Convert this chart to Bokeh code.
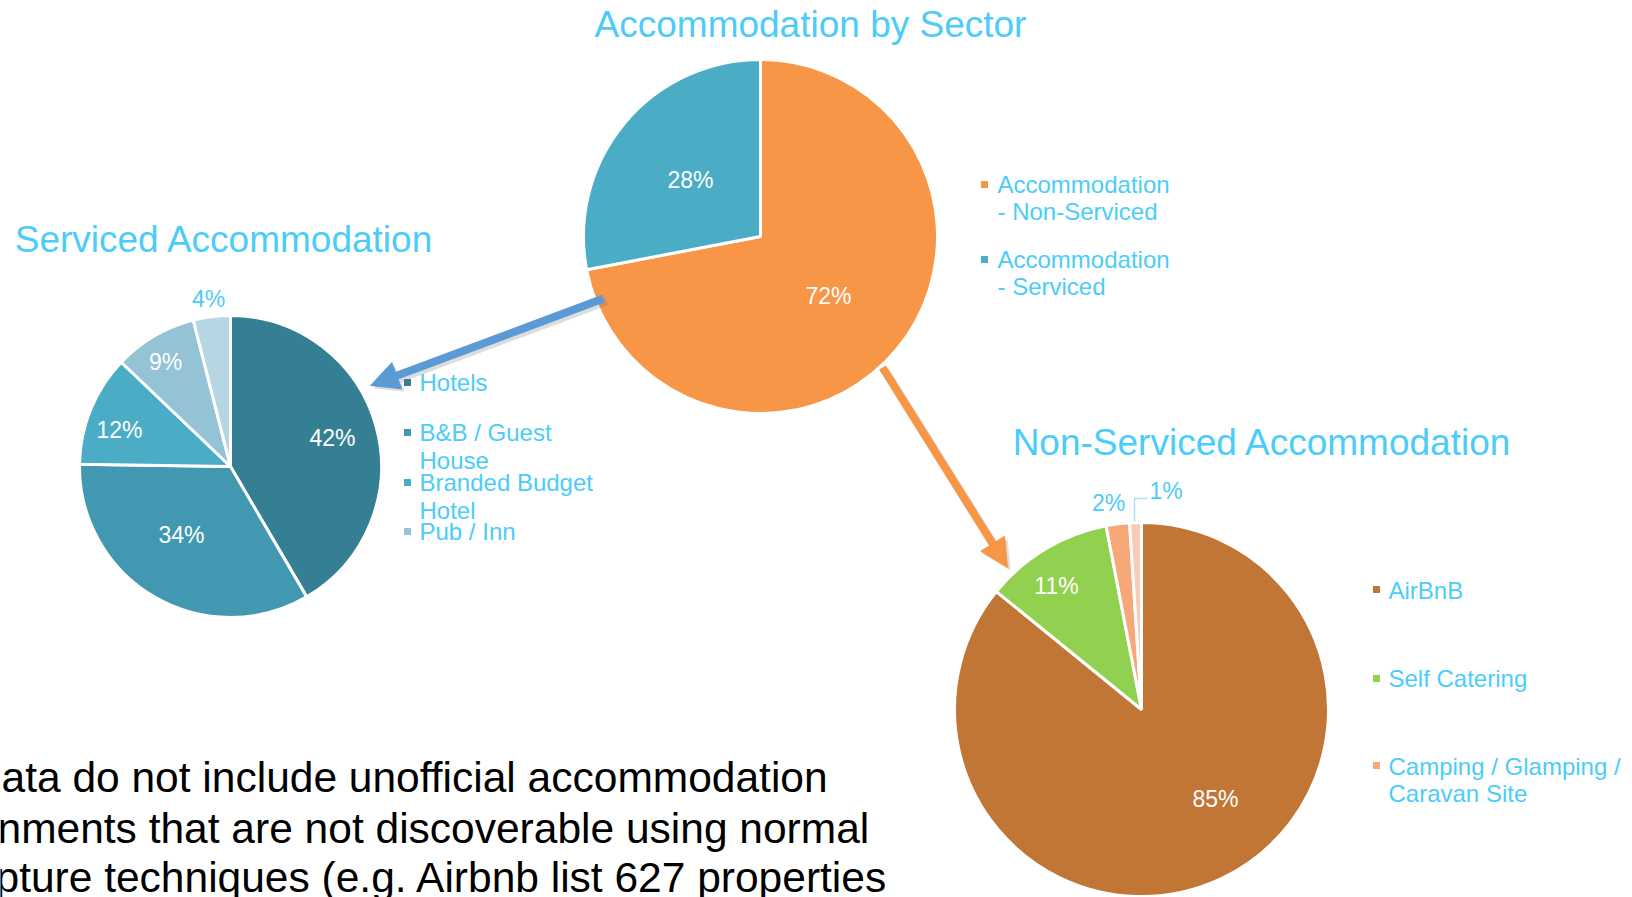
import math
from bokeh.plotting import figure
from bokeh.models import Range1d, Arrow, NormalHead, ColumnDataSource
from bokeh.core.properties import value
from bokeh.embed import file_html
from bokeh.resources import INLINE

# ---------------- data ----------------
sector_names = ["Accommodation - Non-Serviced", "Accommodation - Serviced"]
sector_values = [72, 28]
sector_legend = ["Accommodation\n- Non-Serviced", "Accommodation\n- Serviced"]

serviced_names = ["Hotels", "B&B / Guest House", "Branded Budget Hotel", "Pub / Inn", "Other"]
serviced_values = [42, 34, 12, 9, 4]
serviced_legend = ["Hotels", "B&B / Guest\nHouse", "Branded Budget\nHotel", "Pub / Inn"]

nonserv_names = ["AirBnB", "Self Catering", "Camping / Glamping / Caravan Site", "Other"]
nonserv_values = [85, 11, 2, 1]
nonserv_legend = ["AirBnB", "Self Catering", "Camping / Glamping  /\nCaravan Site"]

titles = ["Accommodation by Sector", "Serviced Accommodation", "Non-Serviced Accommodation"]
note_lines = ["ata do not include unofficial accommodation",
              "nments that are not discoverable using normal",
              "pture techniques (e.g. Airbnb list 627 properties"]

# ---------------- styles / layout ----------------
W, H = 1632, 897
FONT = value("Liberation Sans")
BLUE_TXT = "#4CCCF8"
sector_colors = ["#F79646", "#4BACC6"]
serviced_colors = ["#357F94", "#4298B0", "#4BACC6", "#93C3D4", "#B7D6E3"]
nonserv_colors = ["#C27636", "#92D050", "#F7A878", "#F8CBB5"]

# label anchor positions (page pixels, from top-left)
sector_label_pos = [(828, 295), (690, 179)]
serviced_label_pos = [(332, 437), (181, 534), (119, 429), (165, 361), (208, 298)]
nonserv_label_pos = [(1215, 798), (1056, 585), (1108, 502), None]


def Y(y):
    return H - y


p = figure(width=W, height=H, x_range=Range1d(0, W), y_range=Range1d(0, H),
           output_backend="svg", toolbar_location=None, min_border=0,
           x_axis_type=None, y_axis_type=None)
p.grid.visible = False
p.outline_line_color = None
p.background_fill_color = "white"
p.border_fill_color = "white"


def draw_pie(cx, cy, r, values, colors, names):
    total = float(sum(values))
    cum = 0.0
    starts, ends = [], []
    for v in values:
        starts.append(math.pi / 2 - 2 * math.pi * cum / total)
        ends.append(math.pi / 2 - 2 * math.pi * (cum + v) / total)
        cum += v
    src = ColumnDataSource(dict(x=[cx] * len(values), y=[Y(cy)] * len(values),
                                start=starts, end=ends, color=colors, name=names, v=values))
    p.wedge(x="x", y="y", radius=r, start_angle="start", end_angle="end",
            direction="clock", fill_color="color", line_color="white", line_width=3,
            source=src)


def pie_labels(values, positions, colors):
    xs, ys, ts, cs = [], [], [], []
    for v, pos, c in zip(values, positions, colors):
        if pos is None:
            continue
        xs.append(pos[0])
        ys.append(Y(pos[1]))
        ts.append(f"{v}%")
        cs.append(c)
    p.text(x=xs, y=ys, text=ts, text_color=cs, text_font=FONT, text_font_size="23px",
           text_align="center", text_baseline="middle")


# ---- top pie ----
draw_pie(760, 236, 177, sector_values, sector_colors, sector_names)
pie_labels(sector_values, sector_label_pos, ["white", "white"])

# ---- serviced pie ----
draw_pie(230, 466, 151, serviced_values, serviced_colors, serviced_names)
pie_labels(serviced_values, serviced_label_pos, ["white", "white", "white", "white", BLUE_TXT])

# ---- non-serviced pie ----
draw_pie(1141, 709, 187, nonserv_values, nonserv_colors, nonserv_names)
pie_labels(nonserv_values, nonserv_label_pos, ["white", "white", BLUE_TXT, BLUE_TXT])
# 1% label with leader line
p.line(x=[1134, 1134, 1147], y=[Y(521), Y(498), Y(498)], line_color="#A8E2F8", line_width=1.5)
p.text(x=[1149], y=[Y(490)], text=[f"{nonserv_values[3]}%"], text_color=BLUE_TXT,
       text_font=FONT, text_font_size="23px", text_align="left", text_baseline="middle")

# ---- titles ----
p.text(x=[810, 224, 1262], y=[Y(23.5), Y(238.5), Y(442)], text=titles, text_color=BLUE_TXT,
       text_font=FONT, text_font_size="37px", text_align="center", text_baseline="alphabetic")


# ---- legends ----
def legend(x_sq, x_txt, sq_ys, first_baselines, labels, colors, step=27):
    for ys, yb, lab, c in zip(sq_ys, first_baselines, labels, colors):
        p.rect(x=[x_sq], y=[Y(ys)], width=7, height=7, fill_color=c, line_color=None)
        for k, line in enumerate(lab.split("\n")):
            p.text(x=[x_txt], y=[Y(yb + k * step)], text=[line], text_color=BLUE_TXT,
                   text_font=FONT, text_font_size="24px", text_align="left",
                   text_baseline="alphabetic")


legend(984, 997, [184, 259], [184, 259], sector_legend, sector_colors, step=27)
legend(407, 419, [382, 432, 482, 531], [381.5, 431.5, 481.5, 530.5], serviced_legend,
       serviced_colors, step=28)
legend(1376, 1388, [589, 678, 765], [589.5, 677.5, 765.5], nonserv_legend, nonserv_colors, step=27)

# ---- arrows (with soft shadow) ----
for (xs, ys, xe, ye, col) in [(603, 298, 370, 385, "#5B9BD5"), (882, 367, 1007, 567, "#F79646")]:
    p.add_layout(Arrow(end=NormalHead(size=28, fill_color="#777777", fill_alpha=0.25, line_color=None),
                       x_start=xs + 3, y_start=Y(ys + 3), x_end=xe + 3, y_end=Y(ye + 3),
                       line_color="#777777", line_alpha=0.25, line_width=8))
    p.add_layout(Arrow(end=NormalHead(size=28, fill_color=col, line_color=col, line_width=1),
                       x_start=xs, y_start=Y(ys), x_end=xe, y_end=Y(ye),
                       line_color=col, line_width=8))

# ---- note text (cut off at the left and bottom as in the slide) ----
p.text(x=[1, -3, -5], y=[Y(777), Y(828), Y(877)], text=note_lines, text_color="black",
       text_font=FONT, text_font_size="42.5px", text_align="left", text_baseline="alphabetic")

open("out.html", "w").write(file_html(p, INLINE))
